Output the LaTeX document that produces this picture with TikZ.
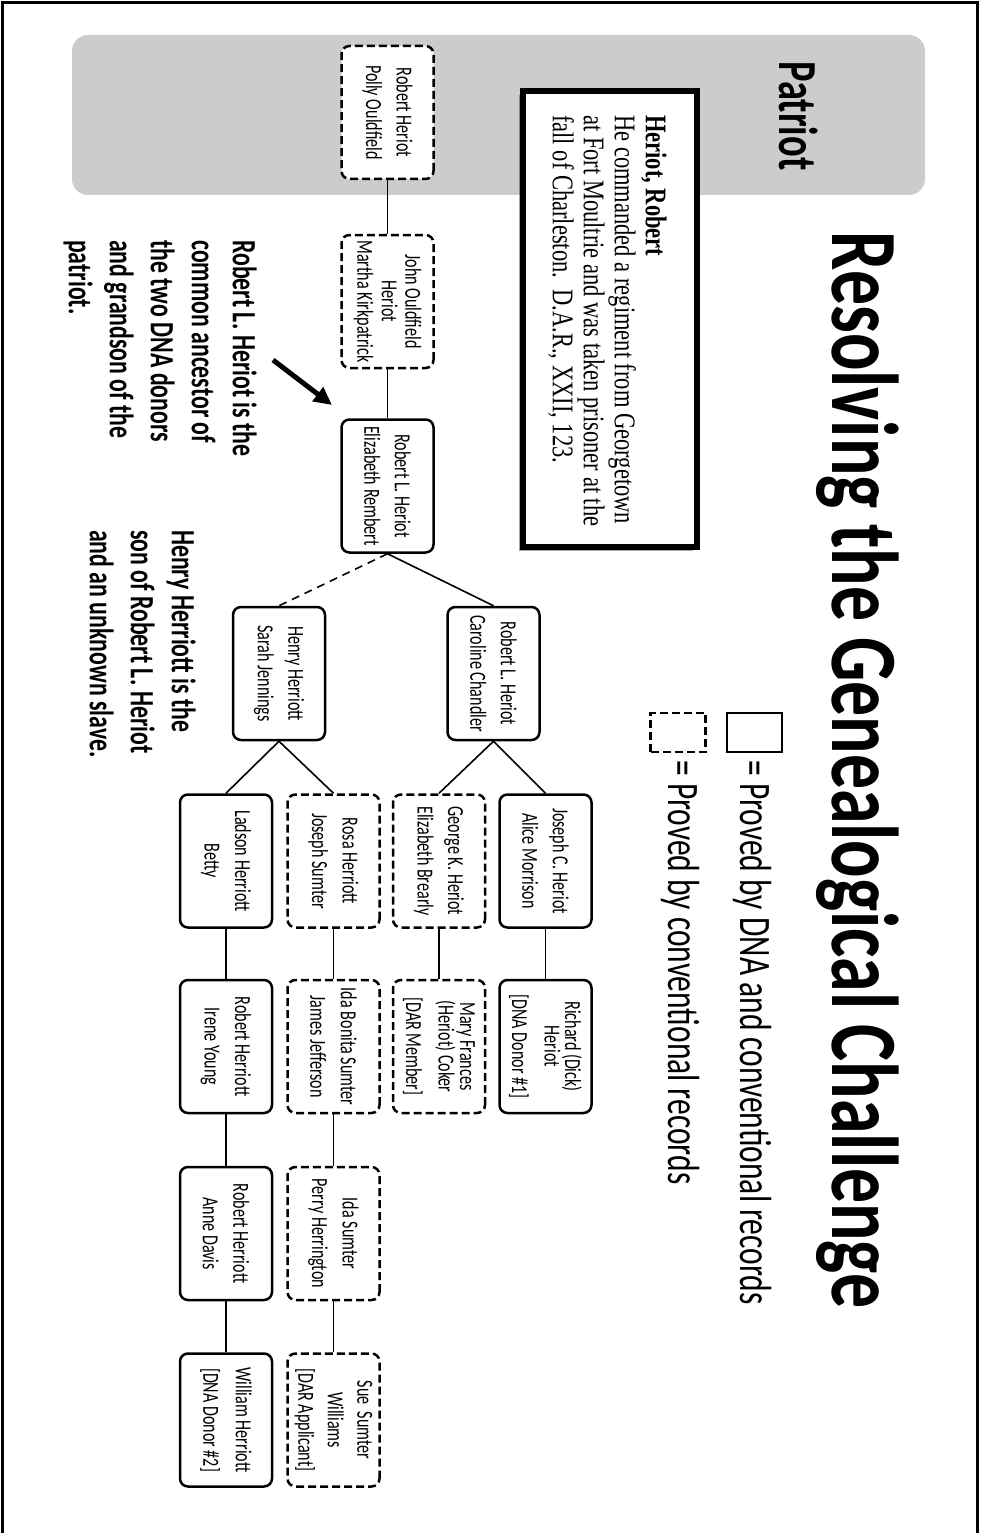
\documentclass[tikz,border=0pt]{standalone}
\usepackage{fontspec}
\usetikzlibrary{arrows.meta,shadows}
\newfontfamily\cf[FakeStretch=0.7]{Carlito}
\newfontfamily\tf[FakeStretch=0.735]{Carlito}
\newfontfamily\qf[FakeStretch=0.75]{Liberation Serif}
\definecolor{bandgray}{RGB}{204,204,204}
\tikzset{
  person/.style={rotate=-90, draw, line width=2.5pt, rounded corners=8pt, fill=white,
    minimum width=133pt, minimum height=92pt, inner sep=2pt, align=center,
    font=\cf\fontsize{23}{20.5}\selectfont},
  dnabox/.style={person},
  convbox/.style={person, dash pattern=on 8pt off 4pt},
  link/.style={line width=1.6pt},
  dlink/.style={line width=1.6pt, dash pattern=on 8pt off 6pt},
  vtext/.style={rotate=-90, inner sep=0pt},
}
\begin{document}
\begin{tikzpicture}[x=1pt,y=-1pt]
\useasboundingbox (0,0) rectangle (982,1533);
% frame
\draw[line width=3pt] (2,1560) -- (2,3) -- (977,3) -- (977,1560);
% patriot band
\fill[bandgray, rounded corners=16pt] (72,35) rectangle (925,195);
\node[vtext, anchor=base, font=\cf\bfseries\fontsize{55}{58}\selectfont] (patriot) at (779,116) {Patriot};
% title
\node[vtext, anchor=base, font=\tf\bfseries\fontsize{95}{100}\selectfont] (title) at (832,770) {Resolving the Genealogical Challenge};
% legend
\node[draw, line width=2.5pt, minimum width=55pt, minimum height=39pt, inner sep=0pt] (legDNA) at (754.5,732.5) {};
\node[draw, line width=2.5pt, dash pattern=on 8pt off 4pt, minimum width=55pt, minimum height=39pt, inner sep=0pt] (legConv) at (678,732.5) {};
\node[vtext, anchor=base west, font=\cf\fontsize{45}{50}\selectfont] (legT1) at (740,760) {= Proved by DNA and conventional records};
\node[vtext, anchor=base west, font=\cf\fontsize{45}{50}\selectfont] (legT2) at (668,760) {= Proved by conventional records};
% quote box
\node[draw, line width=6pt, fill=white, minimum width=174pt, minimum height=456pt, inner sep=0pt,
  drop shadow={shadow xshift=-4pt, shadow yshift=-4pt, opacity=0.35, fill=black}] (quote) at (610,319) {};
\node[vtext, anchor=north west, align=left, font=\qf\fontsize{30}{31}\selectfont] (qtext) at (667,115)
  {\textbf{Heriot, Robert}\\He commanded a regiment from Georgetown\\at Fort Moultrie and was taken prisoner at the\\fall of Charleston.\ \ D.A.R., XXII, 123.};
% notes
\node[vtext, anchor=north west, align=left, font=\cf\bfseries\fontsize{34}{41}\selectfont] (note1) at (257,240)
  {Robert L. Heriot is the\\common ancestor of\\the two DNA donors\\and grandson of the\\patriot.};
\node[vtext, anchor=north west, align=left, font=\cf\bfseries\fontsize{34}{41}\selectfont] (note2) at (196,530)
  {Henry Herriott is the\\son of Robert L. Heriot\\and an unknown slave.};
\coordinate (aTail) at (273,360);
\coordinate (aTip) at (332,405);
\draw[line width=5pt, -{Triangle[length=18pt,width=17pt]}] (aTail) -- (aTip);
% people
\node[convbox] (n0) at (387.5,112.5) {Robert Heriot\\[10pt]Polly Ouldfield};
\node[convbox] (n1) at (387.5,301.5) {John Ouldfield\\[3pt]Heriot\\[4pt]Martha Kirkpatrick};
\node[dnabox] (n2) at (387.5,486) {Robert L. Heriot\\[10pt]Elizabeth Rembert};
\node[dnabox] (n3) at (493.5,673.5) {Robert L. Heriot\\[10pt]Caroline Chandler};
\node[dnabox] (n4) at (279,673.5) {Henry Herriott\\[10pt]Sarah Jennings};
\node[dnabox] (n5) at (545.5,861) {Joseph C. Heriot\\[10pt]Alice Morrison};
\node[convbox] (n6) at (439,861) {George K. Heriot\\[10pt]Elizabeth Brearly};
\node[convbox] (n7) at (333.5,861) {Rosa Herriott\\[10pt]Joseph Sumter};
\node[dnabox] (n8) at (226,861) {Ladson Herriott\\[10pt]Betty};
\node[dnabox] (n9) at (545.5,1046.5) {Richard (Dick)\\Heriot\\[12pt]{[DNA Donor \#1]}};
\node[convbox] (n10) at (439,1046.5) {Mary Frances\\(Heriot) Coker\\[12pt]{[DAR Member]}};
\node[convbox] (n11) at (333.5,1046.5) {Ida Bonita Sumter\\[10pt]James Jefferson};
\node[dnabox] (n12) at (226,1046.5) {Robert Herriott\\[10pt]Irene Young};
\node[convbox] (n13) at (333.5,1233.5) {Ida Sumter\\[10pt]Perry Herrington};
\node[dnabox] (n14) at (226,1233.5) {Robert Herriott\\[10pt]Anne Davis};
\node[convbox] (n15) at (333.5,1420) {Sue\ \ Sumter\\[9pt]Williams\\[9pt]{[DAR Applicant]}};
\node[dnabox] (n16) at (226,1420) {William Herriott\\[12pt]{[DNA Donor \#2]}};
% connectors
\draw[link] (n0.east) -- (n1.west);
\draw[link] (n1.east) -- (n2.west);
\draw[link] (n2.east) -- (n3.west);
\draw[dlink] (n2.east) -- (n4.west);
\draw[link] (n3.east) -- (n5.west);
\draw[link] (n3.east) -- (n6.west);
\draw[link] (n4.east) -- (n7.west);
\draw[link] (n4.east) -- (n8.west);
\draw[link] (n5.east) -- (n9.west);
\draw[link] (n6.east) -- (n10.west);
\draw[link] (n7.east) -- (n11.west);
\draw[link] (n8.east) -- (n12.west);
\draw[link] (n11.east) -- (n13.west);
\draw[link] (n12.east) -- (n14.west);
\draw[link] (n13.east) -- (n15.west);
\draw[link] (n14.east) -- (n16.west);
\end{tikzpicture}
\end{document}
